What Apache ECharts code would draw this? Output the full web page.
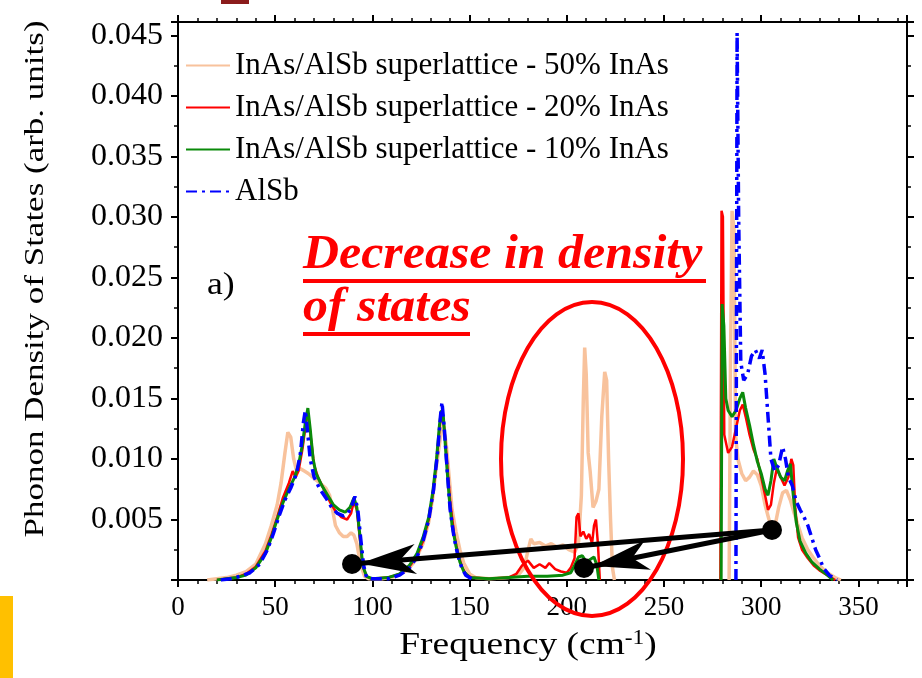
<!DOCTYPE html>
<html>
<head>
<meta charset="utf-8">
<script src="https://cdn.jsdelivr.net/npm/echarts@6/dist/echarts.min.js"></script>
<style>html,body{margin:0;padding:0;background:#fff;}#c{width:922px;height:678px;}</style>
</head>
<body>
<div id="c"></div>
<script>
// ---- Data (frequency in cm^-1, DOS in arb. units); null = no data drawn ----
const seriesNames = ['InAs/AlSb superlattice - 50% InAs','InAs/AlSb superlattice - 20% InAs','InAs/AlSb superlattice - 10% InAs','AlSb'];
const xTicks = [0,50,100,150,200,250,300,350];
const yTicks = [0.005,0.010,0.015,0.020,0.025,0.030,0.035,0.040,0.045];

const freq50 = [15,20,25,30,35,40,45,48,51,53,55,56.5,58,59.5,61,63,65,67,70,73,76,78,79.5,81,83,85,87,89,90.5,92,94,96,98,
  105,112,118,122,126,129,131,133,135,136.5,138,139.5,141,143,145,147,150,153,160,170,175,178,180,181.5,183,186,189,192,195,198,201,204,206,207.5,208.5,209.2,210,211,212,213.5,215,216.5,218,219.5,220.5,221.5,222.5,223.5,224.5,
  250,283.5,284.2,285,286,286.8,288,290,292,294,296,298,300,302,304,306,307.5,309,311,313,315,317,319,321,324,327,330,334,338,341];
const dos50 = [0,0.0001,0.0002,0.0004,0.0007,0.0013,0.0030,0.0045,0.0062,0.0080,0.0105,0.0122,0.0118,0.0100,0.0090,0.0092,0.0090,0.0088,0.0084,0.0080,0.0076,0.0070,0.0058,0.0045,0.0039,0.0036,0.0036,0.0039,0.0037,0.0030,0.0012,0.0003,0.0001,
  0.0001,0.0003,0.0008,0.0016,0.0030,0.0048,0.0068,0.0095,0.0118,0.0128,0.0112,0.0085,0.0058,0.0040,0.0025,0.0014,0.0005,0.0002,0.0001,0.0002,0.0004,0.0010,0.0024,0.0034,0.0030,0.0031,0.0028,0.0030,0.0027,0.0029,0.0025,0.0023,0.0030,0.0070,0.0150,0.0192,0.0170,0.0105,0.0090,0.0060,0.0065,0.0075,0.0135,0.0172,0.0165,0.0100,0.0050,0.0010,0,
  null,0,0.018,0.0305,0.0290,0.0120,0.0100,0.0088,0.0082,0.0085,0.0090,0.0087,0.0078,0.0062,0.0050,0.0044,0.0048,0.0060,0.0072,0.0074,0.0066,0.0055,0.0045,0.0035,0.0025,0.0018,0.0012,0.0006,0.0002,0];

const freq20 = [20,25,30,35,40,45,48,51,54,57,59,60.5,62,64,66,67,68.5,70,72,75,78,81,84,87,89,90.5,92,93.5,95,97,100,
  108,114,119,123,126,129,131,133,134.5,135.8,137,138.5,140,142,144,146,148,151,160,170,174,177,180,183,186,189,191,194,197,200,202,204,205,206,207,208.5,210,211.5,213,214,215,216,217,
  250,279,279.6,280.3,281,283,285,287,289,290.5,292,294,296,298,300,302,303.5,305,306.5,308,310,312,314,315.5,316.5,317.5,319,321,324,327,330,334,338];
const dos20 = [0,0.0001,0.0002,0.0005,0.0011,0.0024,0.0037,0.0052,0.0068,0.0080,0.0090,0.0085,0.0090,0.0108,0.0132,0.0136,0.0115,0.0095,0.0085,0.0075,0.0065,0.0057,0.0052,0.0050,0.0055,0.0065,0.0058,0.0035,0.0012,0.0003,0.0001,
  0.0002,0.0005,0.0011,0.0020,0.0032,0.0050,0.0070,0.0098,0.0125,0.0140,0.0125,0.0095,0.0065,0.0038,0.0022,0.0011,0.0005,0.0002,0.0001,0.0002,0.0005,0.0012,0.0016,0.0010,0.0013,0.0010,0.0014,0.0009,0.0007,0.0006,0.0010,0.0018,0.0052,0.0055,0.0036,0.0040,0.0034,0.0038,0.0030,0.0045,0.0050,0.0030,0,
  null,0,0.0305,0.0300,0.0120,0.0105,0.0110,0.0125,0.0140,0.0145,0.0135,0.0120,0.0108,0.0100,0.0085,0.0070,0.0058,0.0062,0.0080,0.0092,0.0085,0.0078,0.0085,0.0100,0.0095,0.0060,0.0035,0.0025,0.0018,0.0012,0.0008,0.0004,0];

const freq10 = [20,25,30,35,40,45,48,51,54,57,60,62,64,65.5,66.8,68,69.5,71,74,77,80,83,86,88.5,90.5,92,93.5,95,97,100,
  108,114,119,123,126,129,131,133,134.5,135.5,136.5,138,139.5,141,143,145,147,150,160,170,180,190,198,202,204,206,208,210,212,214,215.5,216.5,
  250,279.4,279.9,280.8,281.8,283,285,287,289,290.5,292,294,296,298,300,302,303.5,305,306.5,308,310,312,313.5,315,316.5,318,320,323,326,330,334,337];
const dos10 = [0,0.0001,0.0002,0.0004,0.0010,0.0022,0.0035,0.0050,0.0064,0.0075,0.0085,0.0095,0.0112,0.0130,0.0142,0.0125,0.0100,0.0088,0.0078,0.0070,0.0062,0.0058,0.0056,0.0060,0.0068,0.0060,0.0038,0.0012,0.0003,0.0001,
  0.0002,0.0005,0.0012,0.0022,0.0035,0.0052,0.0072,0.0100,0.0128,0.0140,0.0135,0.0100,0.0068,0.0045,0.0028,0.0015,0.0007,0.0002,0.0001,0.0002,0.0003,0.0003,0.0004,0.0006,0.0012,0.0019,0.0020,0.0015,0.0017,0.0019,0.0012,0,
  null,0,0.0228,0.0210,0.0150,0.0140,0.0135,0.0140,0.0150,0.0155,0.0142,0.0128,0.0112,0.0098,0.0088,0.0075,0.0070,0.0082,0.0100,0.0093,0.0085,0.0082,0.0090,0.0096,0.0070,0.0048,0.0032,0.0022,0.0015,0.0009,0.0004,0];

const freqAlSb = [22,27,32,37,42,46,49,52,55,58,61,63,64.5,65.5,66.5,68,70,73,76,79,82,85,87.5,89.5,91,92.5,94,95.5,97,100,
  108,114,119,123,126,129,131.5,133.5,135,135.8,137,138.5,140,142,144,146,148,151,
  250,287,287.6,288.4,289.5,291,293,295,297,299,300.5,302,303.5,305,307,309,311,312.5,314,316,318,320,322,324,326,328,330,332,335,339];
const dosAlSb = [0,0.0001,0.0003,0.0006,0.0013,0.0025,0.0038,0.0053,0.0066,0.0076,0.0088,0.0105,0.0130,0.0140,0.0125,0.0100,0.0085,0.0075,0.0068,0.0060,0.0055,0.0053,0.0055,0.0062,0.0069,0.0058,0.0034,0.0012,0.0002,0.0001,
  0.0001,0.0004,0.0010,0.0019,0.0032,0.0050,0.0075,0.0105,0.0135,0.0147,0.0125,0.0090,0.0058,0.0035,0.0020,0.0010,0.0004,0.0001,
  null,0,0.0452,0.0300,0.0180,0.0165,0.0170,0.0185,0.0190,0.0183,0.0190,0.0170,0.0135,0.0100,0.0090,0.0095,0.0110,0.0100,0.0085,0.0078,0.0065,0.0058,0.0052,0.0045,0.0035,0.0025,0.0018,0.0010,0.0004,0];

const seriesColors = ['#F8C29C','#FF0000','#0A8A0A','#0000FF'];

// ---- build ----
function pairs(xs, ys){ return xs.map((x,i)=>[x, ys[i]===null ? '-' : ys[i]]); }
const dataSets = [pairs(freq50,dos50), pairs(freq20,dos20), pairs(freq10,dos10), pairs(freqAlSb,dosAlSb)];
const widths = [3.5, 2.5, 3, 3.5];

const FONT = 'Liberation Serif';
const chart = echarts.init(document.getElementById('c'), null, {renderer:'canvas'});

const axisLine = {show:true, onZero:false, lineStyle:{color:'#000', width:2}};
const axisTick = {show:true, inside:false, length:7, lineStyle:{color:'#000', width:2}};
const minorLine = {color:'#000', width:1.5};

const option = {
  backgroundColor:'#fff',
  animation:false,
  grid:{left:178, right:15, top:22, bottom:98, containLabel:false},
  legend:{
    show:true, orient:'vertical', left:180, top:45, itemWidth:44, itemHeight:14, itemGap:11,
    itemStyle:{opacity:0},
    textStyle:{fontFamily:FONT, fontSize:31, color:'#000'},
    data:seriesNames
  },
  xAxis:[
    {type:'value', min:0, max:375, interval:50, position:'bottom', axisLine, axisTick, splitLine:{show:false},
      minorTick:{show:true, splitNumber:5, length:4, lineStyle:minorLine},
      axisLabel:{fontFamily:FONT, fontSize:27, color:'#000', margin:14,
        formatter:v => xTicks.includes(v) ? String(v) : '', showMaxLabel:false}},
    {type:'value', min:0, max:375, interval:50, position:'top', axisLine, axisTick, splitLine:{show:false},
      minorTick:{show:true, splitNumber:5, length:4, lineStyle:minorLine}, axisLabel:{show:false}}
  ],
  yAxis:[
    {type:'value', min:0, max:0.0461, interval:0.005, position:'left', axisLine, axisTick, splitLine:{show:false},
      minorTick:{show:true, splitNumber:2, length:4, lineStyle:minorLine},
      axisLabel:{fontFamily:FONT, fontSize:32, color:'#000', margin:15,
        formatter:v => { const t = yTicks.find(k => Math.abs(k-v)<1e-9); return t ? t.toFixed(3) : ''; }}},
    {type:'value', min:0, max:0.0461, interval:0.005, position:'right', axisLine, axisTick, splitLine:{show:false},
      minorTick:{show:true, splitNumber:2, length:4, lineStyle:minorLine}, axisLabel:{show:false}}
  ],
  series: seriesNames.map((n,i)=>({
    name:n, type:'line', xAxisIndex:0, yAxisIndex:0, data:dataSets[i],
    symbol:'none', showSymbol:false, connectNulls:false, smooth:false,
    lineStyle:{color:seriesColors[i], width:widths[i], type: i===3 ? [11,5,3,5] : 'solid'},
    itemStyle:{color:seriesColors[i]}, z:2+i
  }))
};
chart.setOption(option);

// ---- annotations ----
const dots = [[772,530],[352,564],[584,568]];
function arrowHead(tip, toward, L, W, notch){
  const dx = toward[0]-tip[0], dy = toward[1]-tip[1];
  const len = Math.hypot(dx,dy), ux = dx/len, uy = dy/len, nx = -uy, ny = ux;
  const bx = tip[0]+L*ux, by = tip[1]+L*uy;
  return [tip, [bx+W*nx, by+W*ny], [tip[0]+notch*ux, tip[1]+notch*uy], [bx-W*nx, by-W*ny]];
}
const graphics = [
  {type:'rect', shape:{x:0,y:596,width:13,height:82}, style:{fill:'#FFC000'}, z:10},
  {type:'rect', shape:{x:221,y:0,width:28,height:4}, style:{fill:'#8B1C1C'}, z:10},
  {type:'text', x:36, y:279, rotation:Math.PI/2, scaleX:1.25, style:{text:'Phonon Density of States (arb. units)', font:'28px "Liberation Serif"', fill:'#000', align:'center', verticalAlign:'middle'}, z:10},
  {type:'text', x:528, y:646, scaleX:1.17, style:{text:'Frequency (cm{sup|-1})', font:'32px "Liberation Serif"', fill:'#000', align:'center', verticalAlign:'middle',
     rich:{sup:{font:'20px "Liberation Serif"', fill:'#000', verticalAlign:'top', padding:[0,0,14,0]}}}, z:10},
  {type:'text', x:207, y:286, scaleX:1.15, style:{text:'a)', font:'31px "Liberation Serif"', fill:'#000', verticalAlign:'middle'}, z:10},
  {type:'text', x:303, y:256, scaleX:1.04, style:{text:'Decrease in density', font:'italic bold 48px "Liberation Serif"', fill:'#FF0000', verticalAlign:'middle'}, z:10},
  {type:'text', x:303, y:309, scaleX:1.04, style:{text:'of states', font:'italic bold 48px "Liberation Serif"', fill:'#FF0000', verticalAlign:'middle'}, z:10},
  {type:'line', shape:{x1:303,y1:281,x2:706,y2:281}, style:{stroke:'#FF0000', lineWidth:4}, z:10},
  {type:'line', shape:{x1:303,y1:334,x2:470,y2:334}, style:{stroke:'#FF0000', lineWidth:4}, z:10},
  {type:'ellipse', shape:{cx:592, cy:459, rx:91, ry:157}, style:{stroke:'#FF0000', fill:null, lineWidth:4}, z:10},
  {type:'line', shape:{x1:dots[0][0],y1:dots[0][1],x2:dots[1][0],y2:dots[1][1]}, style:{stroke:'#000', lineWidth:5}, z:11},
  {type:'line', shape:{x1:dots[0][0],y1:dots[0][1],x2:dots[2][0],y2:dots[2][1]}, style:{stroke:'#000', lineWidth:5}, z:11},
  {type:'polygon', shape:{points:arrowHead([360,563.5], dots[0], 56, 15, 40)}, style:{fill:'#000'}, z:11},
  {type:'polygon', shape:{points:arrowHead([593,566], dots[0], 56, 15, 40)}, style:{fill:'#000'}, z:11}
].concat(dots.map(d=>({type:'circle', shape:{cx:d[0], cy:d[1], r:10}, style:{fill:'#000'}, z:12})));
chart.setOption({graphic:graphics});
</script>
</body>
</html>
